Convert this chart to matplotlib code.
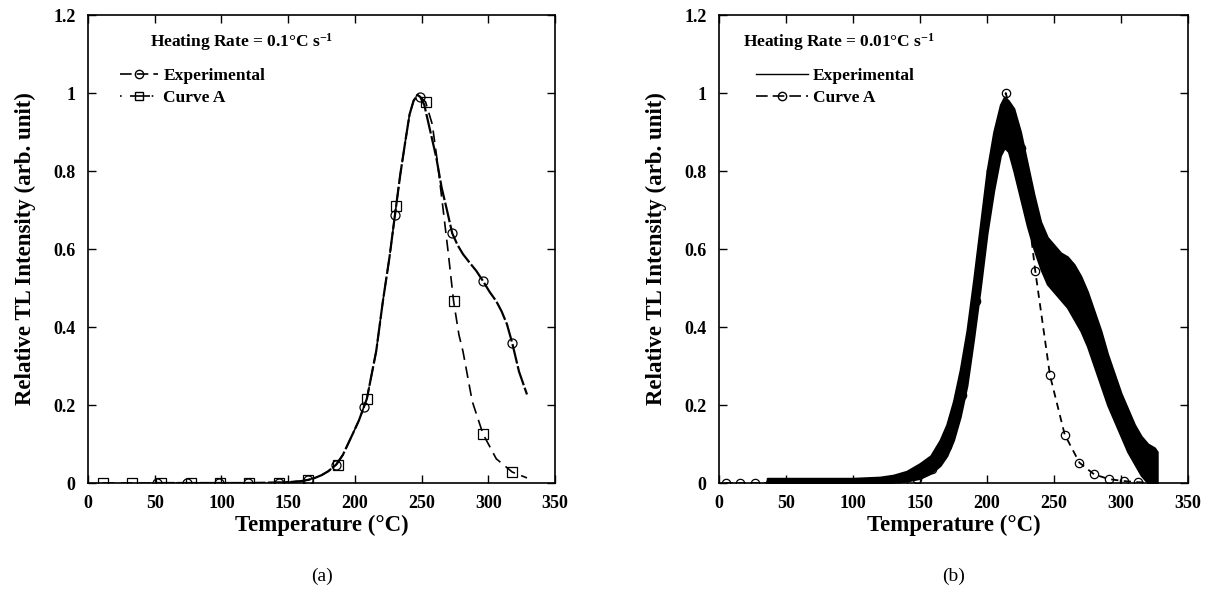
import numpy as np
import matplotlib.pyplot as plt
from matplotlib.lines import Line2D

plt.rcParams['font.family'] = ['Liberation Serif', 'DejaVu Serif']
plt.rcParams['mathtext.fontset'] = 'custom'
plt.rcParams['mathtext.rm'] = 'Liberation Serif:bold'
plt.rcParams['mathtext.default'] = 'rm'

# ---------- (a) heating rate 0.1 C/s ----------
T_exp_a = [50, 60, 80, 100, 120, 140, 150, 160, 165, 170, 175, 180, 186, 191, 198, 203,
           209, 216, 221, 226, 230, 234, 238, 241, 244, 247, 249, 252, 256, 261, 265, 269,
           273, 277, 281, 286, 291, 296, 301, 306, 310, 314, 318, 323, 329]
I_exp_a = [0, 0, 0, 0, 0, 0.001, 0.002, 0.005, 0.008, 0.013, 0.02, 0.03, 0.047, 0.072, 0.123, 0.16,
           0.216, 0.338, 0.466, 0.58, 0.686, 0.79, 0.88, 0.945, 0.98, 0.995, 0.99, 0.97, 0.91, 0.835, 0.758, 0.70,
           0.64, 0.61, 0.587, 0.565, 0.544, 0.518, 0.49, 0.466, 0.44, 0.407, 0.358, 0.286, 0.227]

T_A_a = [11, 40, 80, 120, 140, 150, 160, 165, 170, 175, 180, 186, 191, 198, 203,
         209, 216, 221, 226, 230, 234, 238, 241, 244, 247, 249, 253, 258, 262, 266, 270,
         274, 278, 281, 288, 296, 306, 318, 329]
I_A_a = [0, 0, 0, 0, 0.001, 0.002, 0.005, 0.008, 0.013, 0.02, 0.03, 0.047, 0.072, 0.123, 0.16,
         0.216, 0.338, 0.466, 0.58, 0.686, 0.79, 0.88, 0.945, 0.98, 0.995, 0.99, 0.977, 0.92, 0.82, 0.706, 0.59,
         0.466, 0.38, 0.338, 0.209, 0.126, 0.062, 0.028, 0.013]

Tm_exp_a = [52, 74, 98, 120, 143, 165, 186, 207, 230, 249, 273, 296, 318]
Im_exp_a = [0, 0, 0, 0, 0, 0.007, 0.047, 0.196, 0.686, 0.99, 0.64, 0.518, 0.358]
Tm_A_a = [11, 33, 55, 77, 99, 121, 143, 165, 187, 209, 231, 253, 274, 296, 318]
Im_A_a = [0, 0, 0, 0, 0, 0, 0.001, 0.008, 0.045, 0.216, 0.71, 0.977, 0.466, 0.126, 0.028]

# ---------- (b) heating rate 0.01 C/s ----------
# noisy experimental trace drawn as a band (lower / upper envelope)
T_band = [36, 60, 100, 120, 130, 140, 150, 158, 165, 170, 175, 180, 185, 190, 195, 200,
          205, 210, 213, 216, 220, 225, 230, 235, 240, 245, 250, 255, 260, 265, 270, 275,
          280, 285, 290, 295, 300, 305, 310, 315, 320, 325, 327]
lo_band = [0, 0, 0, 0, 0.002, 0.005, 0.012, 0.025, 0.045, 0.07, 0.11, 0.17, 0.25, 0.37, 0.50, 0.64,
           0.75, 0.84, 0.86, 0.85, 0.80, 0.73, 0.66, 0.60, 0.55, 0.51, 0.49, 0.47, 0.45, 0.42, 0.39, 0.35,
           0.30, 0.25, 0.20, 0.16, 0.12, 0.08, 0.05, 0.02, 0.0, 0.0, 0.0]
hi_band = [0.012, 0.012, 0.012, 0.015, 0.02, 0.03, 0.05, 0.07, 0.11, 0.15, 0.21, 0.29, 0.39, 0.52, 0.66, 0.80,
           0.90, 0.97, 0.99, 0.98, 0.96, 0.90, 0.82, 0.74, 0.67, 0.63, 0.61, 0.59, 0.58, 0.56, 0.53, 0.49,
           0.44, 0.39, 0.33, 0.28, 0.23, 0.19, 0.15, 0.12, 0.10, 0.09, 0.08]

T_A_b = [5, 16, 27, 38, 49, 60, 71, 82, 93, 104, 115, 126, 137, 148, 159, 170, 181, 192,
         203, 214, 225, 236, 247, 258, 269, 280, 291, 302, 313, 324]
I_A_b = [0, 0, 0, 0, 0, 0, 0, 0, 0, 0, 0, 0, 0.003, 0.01, 0.036, 0.095, 0.226, 0.466,
         0.80, 1.0, 0.86, 0.544, 0.276, 0.124, 0.052, 0.022, 0.01, 0.005, 0.002, 0.001]

xticks = [0, 50, 100, 150, 200, 250, 300, 350]
yticks = [0, 0.2, 0.4, 0.6, 0.8, 1, 1.2]

fig = plt.figure(figsize=(12.08, 6.04), dpi=100)
W, H = 1208, 604
ax1 = fig.add_axes([88 / W, 1 - 483 / H, (555 - 88) / W, (483 - 15) / H])
ax2 = fig.add_axes([719 / W, 1 - 483 / H, (1188 - 719) / W, (483 - 15) / H])

# panel a
ax1.plot(T_exp_a, I_exp_a, color='black', lw=1.6, dashes=(9, 1.2))
ax1.plot(T_A_a, I_A_a, color='black', lw=1.2, dashes=(7, 4))
ax1.plot(Tm_exp_a, Im_exp_a, 'o', ms=6.5, mfc='none', mec='black', mew=0.9)
ax1.plot(Tm_A_a, Im_A_a, 's', ms=6.5, mfc='none', mec='black', mew=0.9)
h_a = [Line2D([], [], color='black', lw=1.2, marker='o', ms=6, mfc='none', dashes=(7, 3)),
       Line2D([], [], color='black', lw=1.2, marker='s', ms=6, mfc='none', dashes=(1, 5, 12, 1))]
ax1.legend(h_a, ['Experimental', 'Curve A'], loc='upper left', bbox_to_anchor=(0.035, 0.92),
           frameon=False, handlelength=2.2, handletextpad=0.3, labelspacing=0.3,
           prop={'weight': 'bold', 'size': 12.5})
ax1.text(0.133, 0.942, 'Heating Rate = 0.1\u00b0C s$^{-1}$', transform=ax1.transAxes,
         fontsize=12.5, fontweight='bold', va='center', ha='left')

# panel b
ax2.fill_between(T_band, lo_band, hi_band, color='black', lw=1.5, edgecolor='black')
ax2.plot(T_A_b, I_A_b, color='black', lw=1.3, dashes=(4, 3),
         marker='o', ms=6, mfc='none', mec='black', mew=0.9)
h_b = [Line2D([], [], color='black', lw=1.0),
       Line2D([], [], color='black', lw=1.2, marker='o', ms=6, mfc='none', dashes=(7, 3))]
ax2.legend(h_b, ['Experimental', 'Curve A'], loc='upper left', bbox_to_anchor=(0.045, 0.92),
           frameon=False, handlelength=3.0, handletextpad=0.3, labelspacing=0.3,
           prop={'weight': 'bold', 'size': 12.5})
ax2.text(0.051, 0.942, 'Heating Rate = 0.01\u00b0C s$^{-1}$', transform=ax2.transAxes,
         fontsize=12.5, fontweight='bold', va='center', ha='left')

for ax, tag in [(ax1, '(a)'), (ax2, '(b)')]:
    ax.set_xlim(0, 350)
    ax.set_ylim(0, 1.2)
    ax.set_xticks(xticks)
    ax.set_yticks(yticks)
    ax.set_xticklabels([str(v) for v in xticks])
    ax.set_yticklabels(['%g' % v for v in yticks])
    ax.tick_params(direction='in', length=6, width=1, top=True, right=True,
                   labelsize=13, pad=9)
    for lab in ax.get_xticklabels() + ax.get_yticklabels():
        lab.set_fontweight('bold')
    for s in ax.spines.values():
        s.set_linewidth(1.2)
    ax.set_xlabel('Temperature (\u00b0C)', fontsize=16.5, fontweight='bold', labelpad=2)
    ax.set_ylabel('Relative TL Intensity (arb. unit)', fontsize=16.5, fontweight='bold', labelpad=12)
    ax.text(0.5, -0.2, tag, transform=ax.transAxes, fontsize=14, ha='center', va='center')

fig.savefig('out.png', dpi=100)
